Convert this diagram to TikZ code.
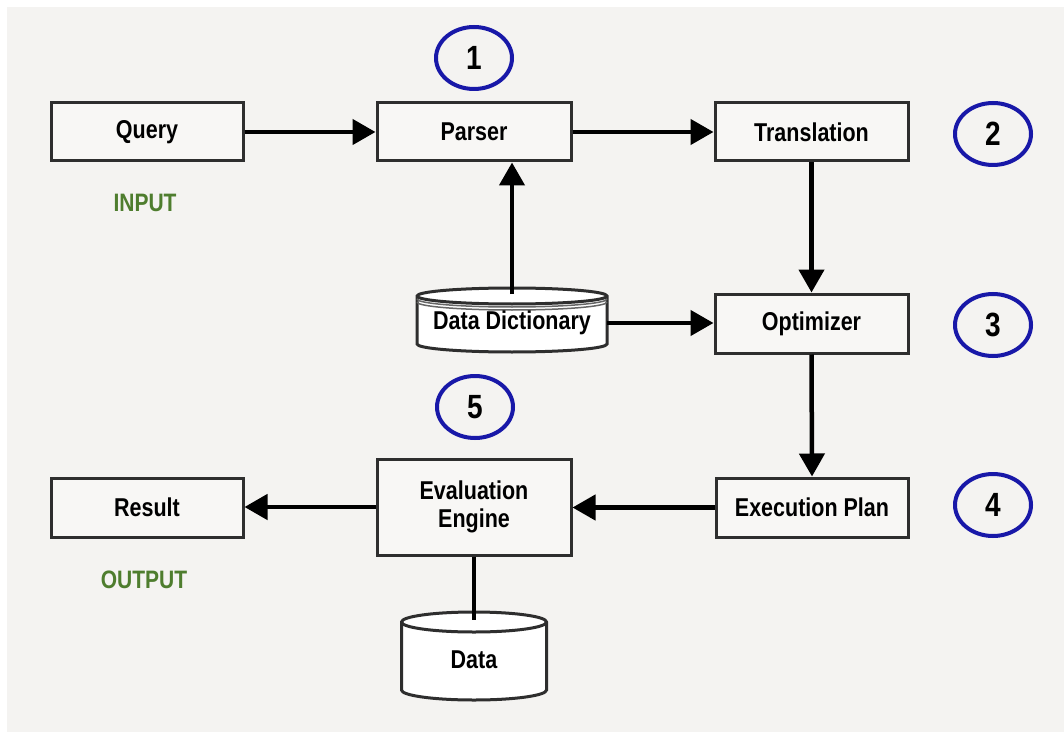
\documentclass[tikz,border=0pt]{standalone}
\usepackage{fontspec}
\usepackage{graphicx}
\setmainfont{Liberation Sans}
\usetikzlibrary{arrows.meta}
\definecolor{bgc}{HTML}{F4F3F1}
\definecolor{boxfill}{HTML}{F8F7F5}
\definecolor{boxline}{HTML}{2E2E2E}
\definecolor{numblue}{HTML}{1818A8}
\definecolor{labgreen}{HTML}{4E7D2E}
\newcommand{\stretchtxt}[1]{\scalebox{1}[1.2]{#1}}
\tikzset{
  stagebox/.style={draw=boxline, line width=3pt, fill=boxfill, minimum width=193pt, minimum height=58pt,
    inner sep=0pt, align=center, font=\bfseries\fontsize{21.5}{27}\selectfont},
  numtext/.style={font=\bfseries\fontsize{28}{30}\selectfont, inner sep=0pt},
  iolabel/.style={text=labgreen, font=\bfseries\fontsize{21}{24}\selectfont, inner sep=0pt},
  flow/.style={line width=4.5pt, -{Triangle[length=23pt,width=25pt]}},
  plainlink/.style={line width=4pt},
  cyltext/.style={inner sep=0pt, font=\bfseries\fontsize{21.5}{24}\selectfont}
}
\begin{document}
\begin{tikzpicture}[x=1pt,y=1pt]
\useasboundingbox (0,0) rectangle (1064,732);
\fill[white] (0,0) rectangle (1064,732);
\fill[bgc] (7,0) rectangle (1064,725);

% stage boxes
\node[stagebox, minimum width=192pt] (query) at (147,600) {\stretchtxt{Query}};
\node[stagebox, minimum width=194pt] (parser) at (474,600) {\stretchtxt{Parser}};
\node[stagebox] (trans) at (811.5,600) {\stretchtxt{Translation}};
\node[stagebox, minimum height=59pt] (opt) at (811.5,408.5) {\stretchtxt{Optimizer}};
\node[stagebox, minimum width=192pt, minimum height=59pt] (exec) at (812,224.5) {\stretchtxt{Execution Plan}};
\node[stagebox, minimum width=194pt, minimum height=96pt] (eval) at (474,225) {\stretchtxt{Evaluation}\\[1pt]\stretchtxt{Engine}};
\node[stagebox, minimum width=192pt, minimum height=59pt] (result) at (147,224.5) {\stretchtxt{Result}};

% labels
\node[iolabel] (input) at (145,529) {\stretchtxt{INPUT}};
\node[iolabel] (output) at (144,152) {\stretchtxt{OUTPUT}};

% Data Dictionary cylinder
\filldraw[draw=boxline, line width=3pt, fill=white]
  (417,436) -- (417,388) arc[start angle=180, end angle=360, x radius=95, y radius=8]
  -- (607,436) arc[start angle=0, end angle=180, x radius=95, y radius=8] -- cycle;
\draw[boxline, line width=3pt] (417,436) arc[start angle=180, end angle=360, x radius=95, y radius=8];
\draw[black!60, line width=1.5pt] (417,433) arc[start angle=180, end angle=360, x radius=95, y radius=8];
\draw[black!60, line width=1.5pt] (417,430) arc[start angle=180, end angle=360, x radius=95, y radius=8];
\node[cyltext, minimum width=190pt, minimum height=40pt] (dd) at (512,409) {\stretchtxt{Data Dictionary}};
\coordinate (ddtop) at (512,438);

% Data cylinder
\filldraw[draw=boxline, line width=3pt, fill=white]
  (401.5,110) -- (401.5,42) arc[start angle=180, end angle=360, x radius=72.5, y radius=10]
  -- (546.5,110) arc[start angle=0, end angle=180, x radius=72.5, y radius=10] -- cycle;
\draw[boxline, line width=3pt] (401.5,110) arc[start angle=180, end angle=360, x radius=72.5, y radius=10];
\node[cyltext, minimum width=140pt, minimum height=40pt] (data) at (474,72) {\stretchtxt{Data}};
\coordinate (datatop) at (474,112);

% numbered circles
\foreach \nm/\px/\py/\lab in {c1/474/674/1, c2/993/598/2, c3/993/407/3, c4/993/227/4, c5/475/325/5}{
  \draw[numblue, line width=4pt] (\px,\py) ellipse[x radius=38, y radius=31];
  \node[numtext] (\nm) at (\px,\py) {\stretchtxt{\lab}};
}

% connectors
\draw[flow] (query.east) -- (parser.west);
\draw[flow] (parser.east) -- (trans.west);
\draw[flow] (trans.south) -- (opt.north);
\draw[flow] (ddtop) -- (ddtop |- parser.south);
\draw[flow] (dd.east) -- (dd.east -| opt.west);
\draw[flow] (opt.south) -- (exec.north);
\draw[flow] (exec.west) -- (exec.west -| eval.east);
\draw[flow] (eval.west) -- (eval.west -| result.east);
\draw[plainlink] (eval.south) -- (datatop);
\end{tikzpicture}
\end{document}
